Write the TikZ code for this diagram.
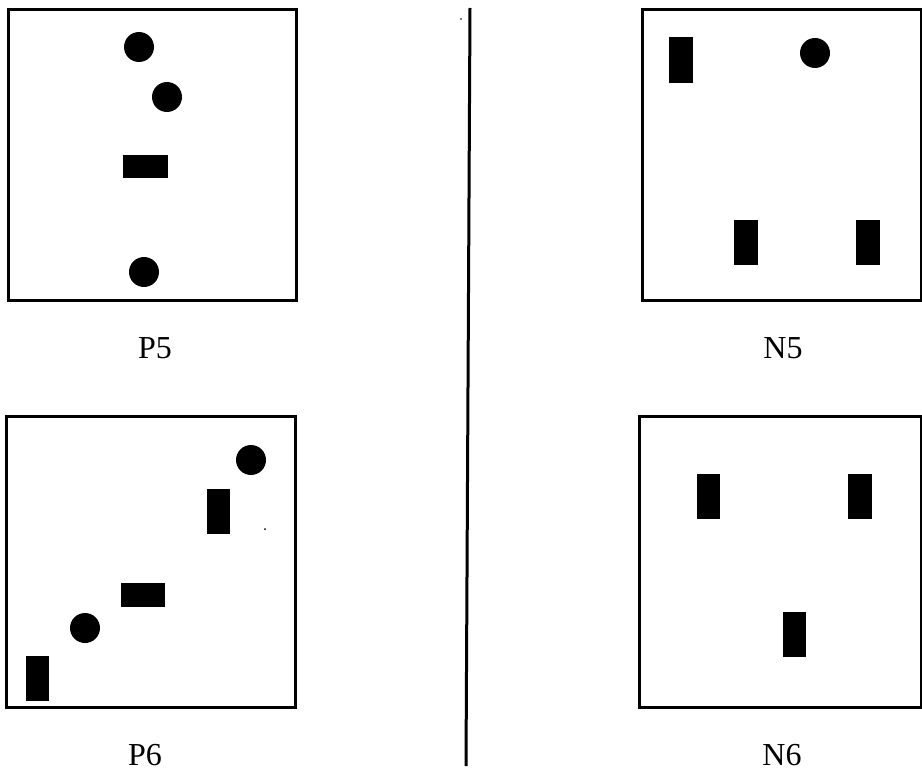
\documentclass[tikz,border=0pt]{standalone}
\usepackage{fontspec}
\setmainfont{Liberation Serif}
\begin{document}
\begin{tikzpicture}[x=1pt,y=-1pt,
  frame/.style={draw=black,line width=3pt},
  dot/.style={fill=black},
  bar/.style={fill=black},
  caption/.style={font=\fontsize{32}{36}\selectfont,inner sep=0pt,anchor=base}]
\useasboundingbox[fill=white] (0,0) rectangle (922,773);

% panel frames
\draw[frame] (8.5,10) rectangle (296,300.5);
\draw[frame] (642,9.5) rectangle (921.5,300.5);
\draw[frame] (6.5,416) rectangle (295,707);
\draw[frame] (639,416) rectangle (921.5,707);

% separator
\coordinate (septop) at (470,8);
\coordinate (sepbot) at (466,766);
\draw[line width=3pt] (septop) -- (sepbot);
\fill (461,19) circle (0.8);

% P5
\fill[dot] (139,47) circle (15);
\fill[dot] (167,97) circle (15);
\fill[bar] (123,155) rectangle (168,178);
\fill[dot] (144,272) circle (15);

% N5
\fill[bar] (669,37) rectangle (693,83);
\fill[dot] (815,53) circle (15);
\fill[bar] (734,220) rectangle (758,265);
\fill[bar] (856,220) rectangle (880,265);

% P6
\fill[dot] (251,460) circle (15);
\fill[bar] (207,489) rectangle (230,534);
\fill (265,529) circle (1);
\fill[bar] (121,583) rectangle (165,607);
\fill[dot] (85,628) circle (15);
\fill[bar] (26,656) rectangle (49,701);

% N6
\fill[bar] (697,474) rectangle (720,519);
\fill[bar] (848,474) rectangle (872,519);
\fill[bar] (783,612) rectangle (806,657);

% captions
\node[caption] (p5) at (155,358) {P5};
\node[caption] (n5) at (783,358) {N5};
\node[caption] (p6) at (145,765) {P6};
\node[caption] (n6) at (782,765) {N6};
\end{tikzpicture}
\end{document}
